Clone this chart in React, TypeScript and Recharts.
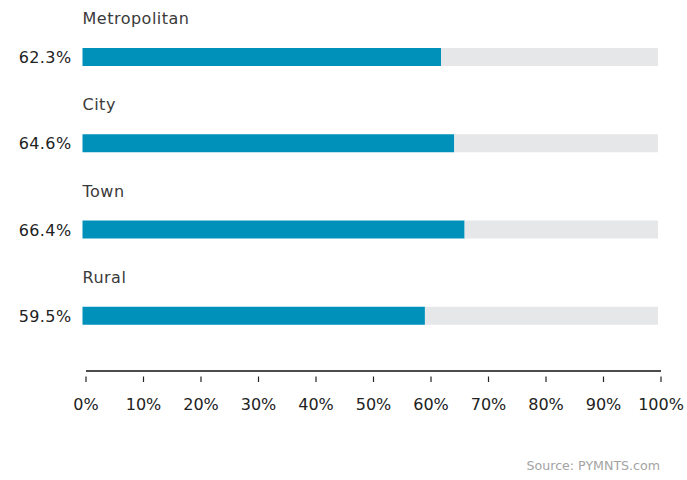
import React from 'react';
import { BarChart, Bar, XAxis, YAxis, LabelList } from 'recharts';

const categories = ['Metropolitan', 'City', 'Town', 'Rural'];
const values = [62.3, 64.6, 66.4, 59.5];
const axisTicks = [0, 10, 20, 30, 40, 50, 60, 70, 80, 90, 100];
const maxValue = 100;

const data = categories.map((name, i) => ({
  name,
  value: values[i],
  rest: maxValue - values[i],
}));

const FONT = '"DejaVu Sans", sans-serif';

const AxisTick = (props: any) => {
  const { x, y, payload } = props;
  return (
    <g>
      <line x1={x} x2={x} y1={y - 2.5} y2={y + 3} stroke="#222" strokeWidth={1.2} />
      <text x={x} y={y + 31} textAnchor="middle" fontFamily={FONT} fontSize={16} fill="#222">
        {payload.value}%
      </text>
    </g>
  );
};

const NameLabel = (props: any) => {
  const { x, y, value } = props;
  return (
    <text x={x} y={y - 24} fontFamily={FONT} fontSize={16} letterSpacing={0.5} fill="#3a3a3a">
      {value}
    </text>
  );
};

const ValueLabel = (props: any) => {
  const { x, y, height, value } = props;
  return (
    <text
      x={x - 11}
      y={y + height / 2}
      dy={6}
      textAnchor="end"
      fontFamily={FONT}
      fontSize={16}
      letterSpacing={0.4}
      fill="#222"
    >
      {value}%
    </text>
  );
};

export default function App() {
  return (
    <div style={{ position: 'absolute', left: 0, top: 0, width: 687, height: 480, background: '#fff' }}>
      <BarChart
        width={687}
        height={480}
        data={data}
        layout="vertical"
        margin={{ top: 14, right: 26, bottom: 69, left: 86 }}
      >
        <YAxis
          type="category"
          dataKey="name"
          hide
          padding={{ top: 0, bottom: 12 }}
        />
        <XAxis
          xAxisId="bars"
          type="number"
          domain={[0, maxValue]}
          hide
          padding={{ left: -3.5, right: 3 }}
        />
        <XAxis
          xAxisId="axis"
          type="number"
          domain={[0, maxValue]}
          allowDataOverflow
          ticks={axisTicks}
          interval={0}
          height={40}
          tickLine={false}
          axisLine={{ stroke: '#111', strokeWidth: 1.5 }}
          tick={<AxisTick />}
        />
        <Bar
          xAxisId="bars"
          dataKey="value"
          stackId="s"
          fill="#0091bb"
          barSize={18}
          isAnimationActive={false}
        >
          <LabelList dataKey="name" content={<NameLabel />} />
          <LabelList dataKey="value" content={<ValueLabel />} />
        </Bar>
        <Bar
          xAxisId="bars"
          dataKey="rest"
          stackId="s"
          fill="#e6e7e8"
          barSize={18}
          isAnimationActive={false}
        />
      </BarChart>
      <div
        style={{
          position: 'absolute',
          right: 27,
          top: 458,
          fontFamily: FONT,
          fontSize: 12.6,
          color: '#a3a3a3',
          whiteSpace: 'nowrap',
        }}
      >
        Source: PYMNTS.com
      </div>
    </div>
  );
}
